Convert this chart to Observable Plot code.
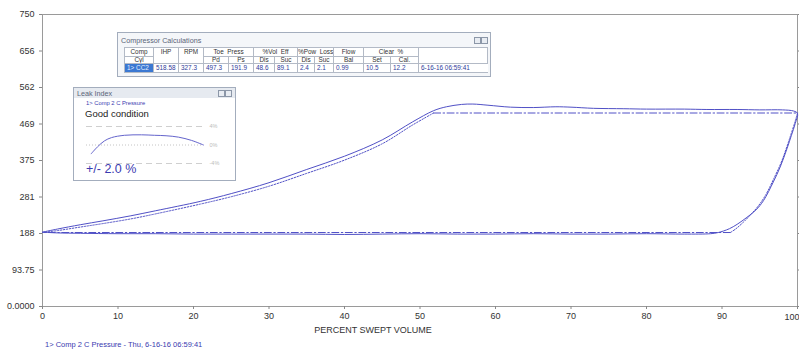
<!DOCTYPE html>
<html><head><meta charset="utf-8">
<script src="https://cdn.jsdelivr.net/npm/d3@7"></script>
<script src="https://cdn.jsdelivr.net/npm/@observablehq/plot@0.6"></script>
<style>
body{margin:0;background:#fff;font-family:"Liberation Sans",Arial,sans-serif;}
#wrap{position:relative;width:799px;height:349px;overflow:hidden;background:#fff;}
#main{position:absolute;left:0;top:0;}
#caption{position:absolute;left:45px;top:340px;font-size:7.5px;line-height:9px;color:#3a3ab0;white-space:nowrap;}
.win{position:absolute;border:1px solid #a3adbd;background:#f4f6f9;box-sizing:border-box;}
.wtitle{position:absolute;left:3px;font-size:7.2px;color:#5a6478;white-space:nowrap;}
.btn{position:absolute;width:5px;height:5px;border:1px solid #8c97a8;background:#e8ecf2;}
#calc{left:117px;top:32px;width:374px;height:45px;}
#calc table{position:absolute;left:6px;top:14px;border-collapse:collapse;table-layout:fixed;width:363px;font-size:6.4px;}
#calc td{border:1px solid #b3bac6;padding:0;text-align:center;color:#333;background:#fff;white-space:nowrap;overflow:hidden;}
#calc tr.r1 td{height:8px;line-height:8px;}
#calc tr.r2 td{height:6px;line-height:6px;}
#calc tr.r3 td{height:8px;line-height:8px;text-align:left;padding-left:2px;color:#2d3a9a;}
#calc tr.r3 td.sel{background:#3b78d2;color:#e8f0ff;}
#leak{left:73px;top:87px;width:163px;height:94px;background:#fff;}
#leak .bar{position:absolute;left:0;top:0;width:100%;height:10px;background:#e6eaf0;}
#leakplot{position:absolute;left:7px;top:30px;}
</style></head><body>
<div id="wrap">
  <div id="main"></div>
  <div id="caption"></div>
  <div id="calc" class="win">
    <div class="wtitle" style="top:3px;">Compressor Calculations</div>
    <div class="btn" style="left:356px;top:4px;"></div>
    <div class="btn" style="left:363px;top:4px;"></div>
    <table id="calctable"></table>
  </div>
  <div id="leak" class="win">
    <div class="bar"></div>
    <div class="wtitle" style="top:1px;">Leak Index</div>
    <div class="btn" style="left:144px;top:2px;"></div>
    <div class="btn" style="left:151px;top:2px;"></div>
    <div id="leaksub" style="position:absolute;left:12px;top:12px;font-size:5.8px;color:#3a3ab0;white-space:nowrap;"></div>
    <div id="leakcond" style="position:absolute;left:11px;top:20px;font-size:9.5px;color:#222;white-space:nowrap;"></div>
    <div id="leakpm" style="position:absolute;left:12px;top:74px;font-size:12.5px;color:#3a3ab0;white-space:nowrap;"></div>
    <div id="leakplot"></div>
  </div>
</div>
<script>
// ---- axis ticks ----
const xTickValues = [0, 10, 20, 30, 40, 50, 60, 70, 80, 90, 100];
const yTickValues = [0, 93.75, 187.5, 281.25, 375, 468.75, 562.5, 656.25, 750];
const yTickLabels = ["0.0000", "93.75", "188", "281", "375", "469", "562", "656", "750"];
const xLabel = "PERCENT SWEPT VOLUME";
const captionText = "1> Comp 2 C Pressure - Thu, 6-16-16 06:59:41";

// ---- actual P-V loop (solid) ----
const actualX = [0, 2, 5, 8, 11.7, 15, 20.9, 25, 30, 35, 40, 45, 49, 51.8, 53.5, 55.5, 57, 59, 62, 65, 68, 70, 73, 77, 80, 85, 88, 92, 95, 98, 99.5, 100,
  99.7, 99.2, 98.6, 97.7, 96.8, 95.5, 94.5, 93.3, 92, 91, 90.2, 89.5, 88.5,
  85, 80, 75, 70, 65, 60, 55, 50, 45, 40, 35, 30, 25, 20, 15, 10, 5, 2, 0];
const actualY = [191, 199, 210, 220, 233, 246, 270, 290, 318, 352, 386, 428, 474, 503, 513, 519, 520, 517, 512, 511, 513, 512, 509, 508, 507, 507, 506, 506, 505, 505, 502, 496,
  470, 440, 405, 358, 320, 272, 248, 229, 211, 200, 194, 190, 187,
  186, 187, 186, 186, 187, 186, 186, 187, 186, 185, 186, 186, 186, 186, 187, 187, 188, 189, 191];

// ---- ideal cycle ----
const compX = [0, 2, 5, 8, 11.7, 15, 20.9, 25, 30, 35, 40, 45, 49, 51.8];
const compY = [190, 195, 204, 213, 225, 238, 263, 282, 309, 342, 376, 418, 466, 497];
const dischargeX = [51.8, 100];
const dischargeY = [497, 497];
const expX = [100, 99.6, 99.1, 98.5, 97.8, 96.9, 95.8, 94.8, 93.8, 92.8, 91.8, 91.1];
const expY = [497, 470, 440, 405, 368, 330, 287, 258, 236, 216, 199, 190];
const suctionX = [91.1, 0];
const suctionY = [190, 190];

// ---- compressor calculations table ----
const calcHead1 = ["Comp", "IHP", "RPM", "Toe\u00a0\u00a0Press", "%Vol\u00a0\u00a0Eff", "%Pow\u00a0\u00a0Loss", "Flow", "Clear\u00a0\u00a0%", ""];
const calcHead2 = ["Cyl", "Pd", "Ps", "Dis", "Suc", "Dis", "Suc", "Bal", "Set", "Cal."];
const calcValues = ["1> CC2", "518.58", "327.3", "497.3", "191.9", "48.6", "89.1", "2.4", "2.1", "0.99", "10.5", "12.2", "6-16-16 06:59:41"];
const calcColWidths = [29, 25, 25, 25, 25, 21, 23, 17, 19, 30, 27, 28, 69];

// ---- leak index ----
const leakTitle = "1> Comp 2 C Pressure";
const leakCondition = "Good condition";
const leakValue = "+/- 2.0 %";
const leakX = [4, 9.4, 15.4, 21.4, 32.5, 47, 58, 68, 78.6, 89.7, 100];
const leakY = [-1.9, -0.4, 0.9, 1.6, 2.1, 2.2, 2.1, 2.0, 1.7, 1.0, 0.0];
const leakLimits = [-4, 4];

const lineColor = "#5050c6";
const toPts = (xs, ys) => xs.map((x, i) => ({x, y: ys[i]}));
const lastTick = xTickValues[xTickValues.length - 1];

const chart = Plot.plot({
  width: 799, height: 336,
  marginLeft: 42, marginRight: 2, marginTop: 14, marginBottom: 30,
  style: {fontFamily: "'Liberation Sans', Arial, sans-serif", fontSize: "9px", color: "#333", background: "transparent", overflow: "visible"},
  x: {domain: [0, 100], label: null},
  y: {domain: [0, 750], label: null},
  marks: [
    Plot.frame({stroke: "#9a9a9a"}),
    Plot.axisX({ticks: xTickValues, tickFormat: d => d === lastTick ? "" : String(d), tickSize: 3, tickPadding: 3, stroke: "#888", label: null}),
    Plot.text([lastTick], {x: d => d, frameAnchor: "bottom", textAnchor: "end", dx: 2, dy: 11, lineAnchor: "middle", fill: "#333", fontSize: 9}),
    Plot.axisY({ticks: yTickValues, tickFormat: (d, i) => yTickLabels[i], tickSize: 3, tickPadding: 5, stroke: "#888", label: null}),
    Plot.axisY({anchor: "right", ticks: yTickValues, tickFormat: () => "", tickSize: 3, stroke: "#888", label: null}),
    Plot.line(toPts(compX, compY), {x: "x", y: "y", curve: "catmull-rom", stroke: lineColor, strokeWidth: 1, strokeDasharray: "1.5,1.5"}),
    Plot.line(toPts(expX, expY), {x: "x", y: "y", curve: "catmull-rom", stroke: lineColor, strokeWidth: 1, strokeDasharray: "1.5,1.5"}),
    Plot.line(toPts(dischargeX, dischargeY), {x: "x", y: "y", stroke: lineColor, strokeWidth: 1, strokeDasharray: "7,2.5,1.5,2.5"}),
    Plot.line(toPts(suctionX, suctionY), {x: "x", y: "y", stroke: lineColor, strokeWidth: 1, strokeDasharray: "7,2.5,1.5,2.5"}),
    Plot.line(toPts(actualX, actualY), {x: "x", y: "y", curve: "catmull-rom", stroke: lineColor, strokeWidth: 1}),
    Plot.text([xLabel], {frameAnchor: "bottom", dx: -47, dy: 24, lineAnchor: "middle", fill: "#333", fontSize: 9})
  ]
});
document.getElementById("main").appendChild(chart);
document.getElementById("caption").textContent = captionText;

// table
const tbl = document.getElementById("calctable");
const cg = document.createElement("colgroup");
calcColWidths.forEach(w => { const c = document.createElement("col"); c.style.width = w + "px"; cg.appendChild(c); });
tbl.appendChild(cg);
const r1 = document.createElement("tr"); r1.className = "r1";
const spans1 = [[1,1],[1,2],[1,2],[2,1],[2,1],[2,1],[1,1],[2,1],[1,2]];
calcHead1.forEach((t, i) => {
  const td = document.createElement("td");
  td.colSpan = spans1[i][0]; td.rowSpan = spans1[i][1];
  if (spans1[i][1] === 2) td.style.verticalAlign = "top";
  td.textContent = t; r1.appendChild(td);
});
tbl.appendChild(r1);
const r2 = document.createElement("tr"); r2.className = "r2";
calcHead2.forEach(t => { const td = document.createElement("td"); td.textContent = t; r2.appendChild(td); });
tbl.appendChild(r2);
const r3 = document.createElement("tr"); r3.className = "r3";
calcValues.forEach((t, i) => { const td = document.createElement("td"); td.textContent = t; if (i === 0) td.className = "sel"; if (i === calcValues.length - 1) td.style.borderRight = "none"; r3.appendChild(td); });
tbl.appendChild(r3);

// leak index
document.getElementById("leaksub").textContent = leakTitle;
document.getElementById("leakcond").textContent = leakCondition;
document.getElementById("leakpm").textContent = leakValue;
const leak = Plot.plot({
  width: 150, height: 52,
  marginLeft: 5, marginRight: 28, marginTop: 8, marginBottom: 7,
  style: {fontFamily: "'Liberation Sans', Arial, sans-serif", fontSize: "5.5px", background: "transparent", overflow: "visible"},
  x: {domain: [0, 100], axis: null},
  y: {domain: leakLimits, axis: null},
  marks: [
    Plot.ruleY(leakLimits, {stroke: "#cfcfcf", strokeDasharray: "6,4"}),
    Plot.ruleY([0], {stroke: "#c4c4c4", strokeDasharray: "1,2"}),
    Plot.axisY({anchor: "right", ticks: [leakLimits[1], 0, leakLimits[0]], tickFormat: d => d + "%", tickSize: 0, tickPadding: 6, color: "#bbb", label: null}),
    Plot.line(toPts(leakX, leakY), {x: "x", y: "y", curve: "catmull-rom", stroke: "#6464cc", strokeWidth: 1})
  ]
});
document.getElementById("leakplot").appendChild(leak);
</script>
</body></html>
